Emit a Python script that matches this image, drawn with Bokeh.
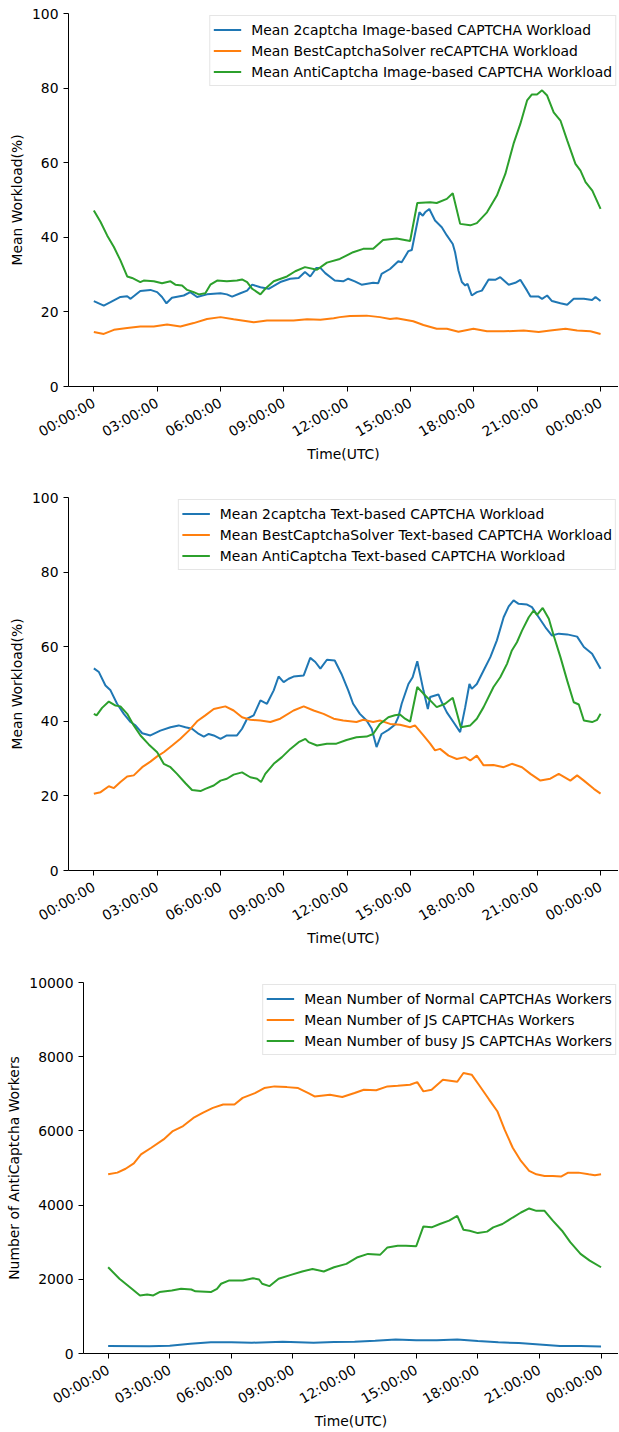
from math import pi
from bokeh.plotting import figure
from bokeh.models import Range1d, FixedTicker, Legend, LegendItem
from bokeh.embed import file_html
from bokeh.resources import INLINE

# ---------------- data ----------------
tick_hours = [0, 3, 6, 9, 12, 15, 18, 21, 24]
tick_labels = ["00:00:00", "03:00:00", "06:00:00", "09:00:00", "12:00:00",
               "15:00:00", "18:00:00", "21:00:00", "00:00:00"]

# Panel 1: image-based / reCAPTCHA workload (%)
img_2captcha_h = [0, 0.47, 0.79, 1.26, 1.58, 1.74, 2.2, 2.68, 3.0, 3.23, 3.44, 3.7, 4.26, 4.57, 4.89,
                  5.36, 6.0, 6.3, 6.55, 6.94, 7.26, 7.5, 7.89, 8.28, 8.83, 9.3, 9.7, 10.0, 10.25, 10.54,
                  10.73, 10.96, 11.41, 11.81, 12.05, 12.36, 12.68, 13.23, 13.47, 13.63, 14.03, 14.42,
                  14.58, 14.9, 15.06, 15.21, 15.42, 15.58, 15.69, 15.89, 16.16, 16.48, 16.72, 17.0,
                  17.11, 17.27, 17.43, 17.59, 17.7, 17.9, 18.14, 18.38, 18.7, 19.01, 19.25, 19.65,
                  19.96, 20.2, 20.52, 20.68, 21.07, 21.23, 21.47, 21.7, 22.1, 22.42, 22.73, 23.21,
                  23.6, 23.76, 24.0]
img_2captcha_v = [22.9, 21.7, 22.6, 24.0, 24.2, 23.5, 25.6, 25.9, 25.3, 24.0, 22.3, 23.8, 24.4, 25.3, 24.0,
                  24.7, 25.0, 24.7, 24.1, 25.0, 25.7, 27.3, 26.6, 26.2, 28.0, 28.9, 29.1, 30.7, 29.5, 31.8,
                  31.8, 30.4, 28.4, 28.2, 28.9, 28.2, 27.3, 27.8, 27.7, 30.2, 31.5, 33.6,
                  33.3, 36.3, 36.6, 40.9, 46.7, 45.8, 46.7, 47.6, 44.5, 42.7, 40.5, 38.2,
                  36.0, 31.1, 28.0, 27.1, 27.5, 24.4, 25.3, 25.7, 28.7, 28.6, 29.3, 27.3,
                  27.8, 28.6, 25.7, 24.1, 24.1, 23.5, 24.4, 22.9, 22.3, 21.9, 23.5, 23.5,
                  23.2, 24.0, 22.9]

img_bcs_h = [0, 0.47, 0.95, 1.58, 2.2, 2.84, 3.47, 4.1, 4.73, 5.36, 6.0, 6.62, 7.26, 7.57, 8.2, 8.83,
             9.46, 10.1, 10.73, 11.36, 11.65, 12.13, 12.92, 13.55, 14.03, 14.34, 15.13, 15.61, 16.24,
             16.72, 17.27, 17.98, 18.62, 19.41, 20.36, 21.07, 21.62, 22.34, 22.89, 23.52, 24.0]
img_bcs_v = [14.6, 14.1, 15.2, 15.7, 16.1, 16.1, 16.6, 16.1, 17.0, 18.1, 18.6, 18.0, 17.5, 17.2, 17.7, 17.7,
             17.7, 18.0, 17.9, 18.3, 18.6, 18.9, 19.0, 18.6, 18.1, 18.3, 17.5, 16.5, 15.5,
             15.5, 14.7, 15.5, 14.8, 14.8, 15.0, 14.6, 15.0, 15.5, 15.0, 14.8, 14.1]

img_anti_h = [0, 0.32, 0.63, 0.95, 1.26, 1.58, 1.81, 2.2, 2.36, 2.84, 3.23, 3.63, 3.86, 4.18, 4.42, 4.73,
              4.97, 5.28, 5.52, 5.84, 6.3, 6.78, 7.02, 7.26, 7.5, 7.89, 8.12, 8.52, 9.15, 9.54, 10.0,
              10.57, 11.04, 11.65, 12.28, 12.76, 13.23, 13.7, 14.34, 14.98, 15.32, 15.93, 16.24, 16.72,
              17.0, 17.35, 17.83, 18.14, 18.62, 19.09, 19.49, 19.88, 20.2, 20.52, 20.75, 20.99, 21.23,
              21.47, 21.78, 22.1, 22.42, 22.81, 23.05, 23.29, 23.61, 24.0]
img_anti_v = [47.2, 44.1, 40.5, 37.4, 33.8, 29.5, 29.1, 28.0, 28.4, 28.2, 27.7, 28.2, 27.3, 27.1, 25.9, 25.3,
              24.7, 25.0, 27.3, 28.4, 28.2, 28.4, 28.7, 28.0, 26.2, 24.7, 26.2, 28.2, 29.5, 30.9, 32.0,
              31.3, 33.2, 34.2, 36.0, 36.9, 36.9, 39.3, 39.7, 39.0, 49.2, 49.4, 49.2, 50.3,
              51.8, 43.6, 43.2, 43.8, 46.7, 51.2, 57.0, 65.1, 70.4, 76.7, 78.3, 78.3, 79.4,
              78.0, 73.5, 71.3, 66.0, 59.7, 57.9, 54.8, 52.5, 47.6]

# Panel 2: text-based workload (%)
txt_2captcha_h = [0, 0.24, 0.55, 0.79, 1.1, 1.42, 1.74, 1.97, 2.29, 2.68, 3.15, 3.63, 4.02, 4.34, 4.65,
                  4.97, 5.21, 5.44, 5.68, 6.0, 6.3, 6.78, 7.02, 7.26, 7.57, 7.89, 8.2, 8.52, 8.75, 8.99,
                  9.23, 9.46, 9.94, 10.25, 10.49, 10.73, 11.04, 11.41, 11.73, 12.05, 12.28, 12.6, 12.92,
                  13.16, 13.39, 13.63, 13.95, 14.26, 14.42, 14.58, 14.9, 15.1, 15.32, 15.61, 15.82, 15.93,
                  16.32, 16.48, 16.72, 17.03, 17.35, 17.59, 17.79, 17.9, 18.14, 18.46, 18.78, 19.09,
                  19.41, 19.65, 19.88, 20.12, 20.52, 20.75, 21.07, 21.39, 21.7, 22.02, 22.42, 22.89,
                  23.21, 23.6, 24.0]
txt_2captcha_v = [54.2, 53.2, 49.6, 48.3, 44.7, 42.0, 39.8, 38.9, 36.8, 36.2, 37.5, 38.4, 38.9, 38.4, 38.0,
                  36.6, 35.9, 36.6, 36.2, 35.3, 36.2, 36.2, 38.0, 40.7, 41.6, 45.6, 44.7, 48.3, 52.0, 50.5,
                  51.4, 52.0, 52.3, 57.0, 55.9, 54.1, 56.5, 56.3, 52.7, 48.3, 44.7, 42.0, 40.2,
                  38.0, 33.1, 36.6, 37.7, 39.1, 41.1, 44.7, 50.0, 51.8, 56.1, 48.3, 43.3, 46.5,
                  47.2, 45.1, 42.4, 39.8, 37.1, 43.8, 50.0, 48.7, 50.0, 53.6, 57.2, 61.7,
                  67.9, 70.8, 72.4, 71.5, 71.3, 70.6, 67.9, 65.2, 63.0, 63.5, 63.3, 62.7,
                  59.9, 58.1, 54.1]

txt_bcs_h = [0, 0.32, 0.71, 0.95, 1.26, 1.58, 1.89, 2.29, 2.68, 3.0, 3.31, 3.71, 4.1, 4.5, 4.89, 5.28,
             5.68, 6.23, 6.62, 7.02, 7.41, 7.89, 8.36, 8.83, 9.46, 9.94, 10.41, 10.88, 11.36, 11.81,
             12.44, 12.76, 13.23, 13.55, 14.03, 14.5, 14.98, 15.21, 15.61, 15.93, 16.16, 16.4, 16.8,
             17.19, 17.59, 17.83, 18.14, 18.46, 18.93, 19.41, 19.8, 20.28, 20.68, 21.15, 21.62, 22.02,
             22.57, 22.89, 23.21, 23.68, 24.0]
txt_bcs_v = [20.6, 21.0, 22.6, 22.1, 23.7, 25.2, 25.5, 27.7, 29.2, 30.6, 31.7, 33.5, 35.3, 37.5, 40.0, 41.6,
             43.3, 44.0, 42.9, 41.1, 40.4, 40.2, 39.8, 40.7, 42.9, 44.0, 42.9, 42.0, 40.7, 40.2,
             39.8, 40.4, 39.8, 40.2, 39.3, 39.1, 38.4, 38.9, 36.2, 34.0, 32.2, 32.6, 30.8,
             29.9, 30.4, 29.5, 30.8, 28.2, 28.3, 27.7, 28.6, 27.7, 25.9, 24.1, 24.6, 25.9,
             24.1, 25.5, 24.1, 21.9, 20.6]

txt_anti_h = [0, 0.13, 0.39, 0.71, 1.03, 1.26, 1.58, 1.89, 2.21, 2.6, 3.0, 3.31, 3.63, 3.94, 4.34, 4.65,
              5.05, 5.28, 5.68, 6.0, 6.3, 6.62, 7.02, 7.41, 7.73, 7.92, 8.12, 8.52, 8.91, 9.31, 9.7,
              10.02, 10.17, 10.57, 11.04, 11.49, 11.97, 12.44, 12.92, 13.23, 13.55, 13.95, 14.26, 14.5,
              14.74, 14.98, 15.32, 15.61, 15.93, 16.24, 16.64, 17.0, 17.38, 17.83, 18.14, 18.46, 18.93,
              19.25, 19.57, 19.8, 20.04, 20.28, 20.6, 20.83, 20.99, 21.26, 21.55, 21.78, 22.1, 22.42,
              22.73, 22.97, 23.21, 23.6, 23.84, 24.0]
txt_anti_v = [42.0, 41.6, 43.6, 45.3, 44.2, 44.0, 42.0, 38.9, 36.2, 33.8, 31.7, 28.6, 27.7, 25.9, 23.4, 21.6,
              21.3, 21.9, 22.8, 24.1, 24.6, 25.7, 26.3, 25.0, 24.6, 23.7, 25.9, 28.6, 30.4, 32.6, 34.4,
              35.3, 34.4, 33.5, 34.0, 34.0, 35.0, 35.7, 35.9, 36.6, 39.3, 41.1, 41.6, 41.8,
              40.7, 39.9, 49.2, 47.4, 45.6, 43.8, 44.7, 46.3, 38.4, 38.9, 40.7, 43.8, 49.2,
              51.8, 55.4, 59.0, 61.2, 64.3, 67.9, 69.7, 68.5, 70.4, 67.5, 63.0, 57.2, 50.9,
              45.1, 44.5, 40.2, 39.8, 40.4, 42.0]

# Panel 3: AntiCaptcha worker counts
wrk_normal_h = [0, 2, 3, 4, 5, 6, 7, 8.5, 10, 11, 12, 13, 14, 15, 16, 17, 18, 19, 20, 21, 22, 23, 24]
wrk_normal_v = [200, 195, 210, 260, 300, 300, 290, 320, 290, 310, 320, 345, 375, 360, 355, 380, 335,
                300, 280, 240, 200, 200, 190]

wrk_js_h = [0, 0.45, 0.85, 1.25, 1.6, 2.1, 2.7, 3.15, 3.65, 4.15, 4.6, 5.1, 5.6, 6.15, 6.55, 7.15, 7.6,
            8.1, 8.7, 9.25, 9.75, 10.05, 10.8, 11.4, 12.0, 12.45, 13.05, 13.6, 14.1, 14.7, 15.05, 15.35,
            15.75, 16.3, 17.0, 17.3, 17.7, 18.05, 18.55, 18.95, 19.3, 19.7, 20.1, 20.5, 20.85, 21.25,
            21.65, 22.05, 22.4, 22.9, 23.4, 23.7, 24.0]
wrk_js_v = [4830, 4875, 4980, 5125, 5365, 5545, 5770, 5995, 6130, 6350, 6485, 6620, 6710, 6710, 6890, 7020,
            7155, 7200, 7180, 7155, 7020, 6930, 6975, 6915, 7020, 7110, 7095, 7200, 7220, 7245, 7315,
            7065, 7110, 7380, 7325, 7560, 7515, 7245, 6845, 6530, 6040, 5545, 5190, 4920, 4830, 4785,
            4785, 4770, 4875, 4875, 4830, 4805, 4830]

wrk_busy_h = [0, 0.55, 1.15, 1.55, 1.9, 2.2, 2.5, 3.1, 3.55, 4.05, 4.25, 5.0, 5.3, 5.5, 5.9, 6.55, 7.05,
              7.35, 7.5, 7.85, 8.3, 8.9, 9.45, 9.95, 10.5, 11.0, 11.6, 12.15, 12.65, 13.25, 13.6, 14.1,
              14.5, 15.0, 15.35, 15.75, 16.15, 16.6, 17.0, 17.3, 17.6, 18.0, 18.45, 18.75, 19.2, 19.7,
              20.1, 20.5, 20.85, 21.25, 21.65, 22.1, 22.5, 23.0, 23.45, 24.0]
wrk_busy_v = [2325, 2015, 1745, 1565, 1590, 1565, 1655, 1700, 1745, 1725, 1675, 1655, 1745, 1880, 1970,
              1970, 2030, 1995, 1880, 1815, 2015, 2120, 2210, 2280, 2210, 2325, 2415, 2595, 2685, 2665,
              2860, 2905, 2905, 2890, 3425, 3400, 3490, 3580, 3710, 3335, 3310, 3245, 3285, 3400, 3490,
              3665, 3800, 3910, 3845, 3845, 3580, 3310, 3000, 2685, 2505, 2325]

# ---------------- styling ----------------
FONT = "DejaVu Sans"
FS = "13.9px"
COLORS = ["#1f77b4", "#ff7f0e", "#2ca02c"]


def make_panel(height, border_left, border_top, border_bottom, yend, yticks, ylabel,
               series, labels):
    p = figure(width=618, height=height, output_backend="svg", toolbar_location=None,
               x_range=Range1d(-1.2, 24.85), y_range=Range1d(0, yend),
               min_border_left=border_left, min_border_right=0, min_border_top=border_top,
               min_border_bottom=border_bottom)
    p.outline_line_color = None
    p.grid.visible = False
    p.background_fill_color = "white"
    p.border_fill_color = "white"

    for ax in (p.xaxis[0], p.yaxis[0]):
        ax.axis_line_color = "black"
        ax.axis_line_width = 1
        ax.major_tick_line_color = "black"
        ax.major_tick_out = 5
        ax.major_tick_in = 0
        ax.minor_tick_line_color = None
        ax.major_label_text_font = FONT
        ax.major_label_text_font_size = FS
        ax.major_label_text_color = "black"
        ax.axis_label_text_font = FONT
        ax.axis_label_text_font_size = FS
        ax.axis_label_text_font_style = "normal"
        ax.axis_label_text_color = "black"

    p.xaxis.ticker = FixedTicker(ticks=tick_hours)
    p.xaxis.major_label_overrides = {h: lab for h, lab in zip(tick_hours, tick_labels)}
    p.xaxis.major_label_orientation = pi / 6
    p.xaxis.major_label_standoff = 10
    p.xaxis.axis_label = "Time(UTC)"
    p.xaxis.axis_label_standoff = -4

    p.yaxis.ticker = FixedTicker(ticks=yticks)
    p.yaxis.major_label_standoff = 5
    p.yaxis.axis_label = ylabel
    p.yaxis.axis_label_standoff = 4

    items = []
    for (hx, vy), lab, col in zip(series, labels, COLORS):
        r = p.line(hx, vy, line_color=col, line_width=2)
        items.append(LegendItem(label=lab, renderers=[r]))

    leg = Legend(items=items, location="top_right", margin=2, padding=3, spacing=0,
                 glyph_width=28, glyph_height=21, label_height=21, label_standoff=10,
                 label_text_font=FONT, label_text_font_size=FS, label_text_color="black",
                 background_fill_color="white", background_fill_alpha=0.8,
                 border_line_color="#cccccc", border_line_width=1)
    p.add_layout(leg)
    return p


p1 = make_panel(488, 68, 13, 102, 100, [0, 20, 40, 60, 80, 100], "Mean Workload(%)",
                [(img_2captcha_h, img_2captcha_v), (img_bcs_h, img_bcs_v), (img_anti_h, img_anti_v)],
                ["Mean 2captcha Image-based CAPTCHA Workload",
                 "Mean BestCaptchaSolver reCAPTCHA Workload",
                 "Mean AntiCaptcha Image-based CAPTCHA Workload"])

p2 = make_panel(485, 68, 9, 103, 100, [0, 20, 40, 60, 80, 100], "Mean Workload(%)",
                [(txt_2captcha_h, txt_2captcha_v), (txt_bcs_h, txt_bcs_v), (txt_anti_h, txt_anti_v)],
                ["Mean 2captcha Text-based CAPTCHA Workload",
                 "Mean BestCaptchaSolver Text-based CAPTCHA Workload",
                 "Mean AntiCaptcha Text-based CAPTCHA Workload"])

p3 = make_panel(458, 83, 9, 76, 10000, [0, 2000, 4000, 6000, 8000, 10000],
                "Number of AntiCaptcha Workers",
                [(wrk_normal_h, wrk_normal_v), (wrk_js_h, wrk_js_v), (wrk_busy_h, wrk_busy_v)],
                ["Mean Number of Normal CAPTCHAs Workers",
                 "Mean Number of JS CAPTCHAs Workers",
                 "Mean Number of busy JS CAPTCHAs Workers"])

open("out.html", "w").write(file_html([p1, p2, p3], INLINE))
